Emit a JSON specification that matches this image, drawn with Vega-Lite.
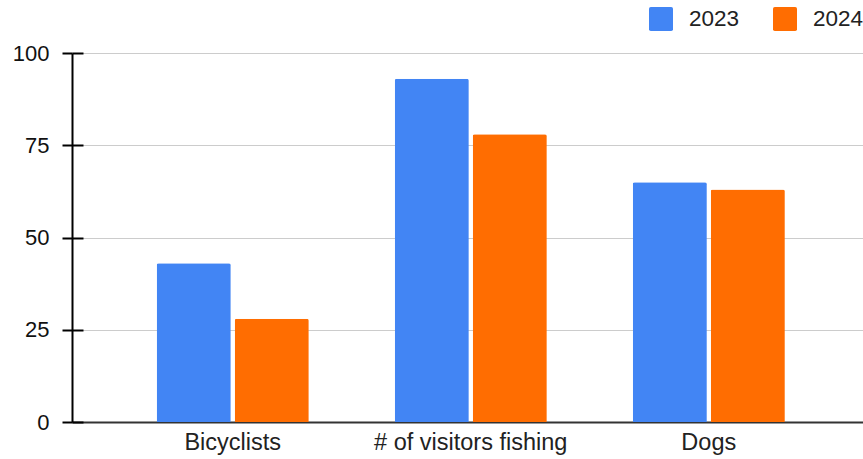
{
  "$schema": "https://vega.github.io/schema/vega-lite/v6.json",
  "width": 791,
  "height": 369,
  "autosize": {"type": "none"},
  "padding": {"left": 72, "top": 53, "right": 0, "bottom": 37},
  "background": "white",
  "config": {
    "view": {"stroke": null},
    "font": "Liberation Sans"
  },
  "data": {
    "values": [
      {"category": "Bicyclists", "year": "2023", "value": 43},
      {"category": "Bicyclists", "year": "2024", "value": 28},
      {"category": "# of visitors fishing", "year": "2023", "value": 93},
      {"category": "# of visitors fishing", "year": "2024", "value": 78},
      {"category": "Dogs", "year": "2023", "value": 65},
      {"category": "Dogs", "year": "2024", "value": 63}
    ]
  },
  "encoding": {
    "x": {
      "field": "category",
      "type": "nominal",
      "sort": null,
      "scale": {"paddingInner": 0.361, "paddingOuter": 0.342, "align": 0.52},
      "axis": {
        "title": null,
        "labelAngle": 0,
        "ticks": false,
        "labelFontSize": 23.5,
        "labelColor": "#222222",
        "labelPadding": 8,
        "labelLimit": 400,
        "labelOverlap": false,
        "domainColor": "#333333",
        "domainWidth": 2
      }
    },
    "xOffset": {
      "field": "year",
      "type": "nominal",
      "scale": {"paddingInner": 0.05, "paddingOuter": 0}
    },
    "y": {
      "field": "value",
      "type": "quantitative",
      "scale": {"domain": [0, 100], "nice": false, "zero": true}
    }
  },
  "layer": [
    {
      "mark": {"type": "bar", "cornerRadiusTopLeft": 2, "cornerRadiusTopRight": 2},
      "encoding": {
        "y": {
          "field": "value",
          "type": "quantitative",
          "axis": {
            "title": null,
            "values": [0, 25, 50, 75, 100],
            "grid": true,
            "gridColor": "#cccccc",
            "gridWidth": 1,
            "domainColor": "#000000",
            "domainWidth": 2,
            "tickColor": "#000000",
            "tickWidth": 2,
            "tickSize": 10,
            "labelFontSize": 22,
            "labelColor": "#111111",
            "labelPadding": 13
          }
        },
        "color": {
          "field": "year",
          "type": "nominal",
          "scale": {"domain": ["2023", "2024"], "range": ["#4285F4", "#FF6D01"]},
          "legend": {
            "title": null,
            "orient": "none",
            "direction": "horizontal",
            "legendX": 577,
            "legendY": -46,
            "symbolType": "M-0.85,-1H0.85Q1,-1 1,-0.85V0.85Q1,1 0.85,1H-0.85Q-1,1 -1,0.85V-0.85Q-1,-1 -0.85,-1Z",
            "symbolSize": 576,
            "symbolStrokeWidth": 0,
            "labelFontSize": 22.5,
            "labelColor": "#222222",
            "labelOffset": 16,
            "columnPadding": 33
          }
        }
      }
    },
    {
      "mark": {"type": "bar", "opacity": 0},
      "encoding": {
        "y": {
          "field": "value",
          "type": "quantitative",
          "axis": {
            "orient": "right",
            "offset": -791,
            "title": null,
            "values": [0, 25, 50, 75, 100],
            "grid": false,
            "domain": false,
            "labels": false,
            "tickColor": "#000000",
            "tickWidth": 2,
            "tickSize": 11
          }
        }
      }
    }
  ],
  "resolve": {"axis": {"y": "independent"}}
}
